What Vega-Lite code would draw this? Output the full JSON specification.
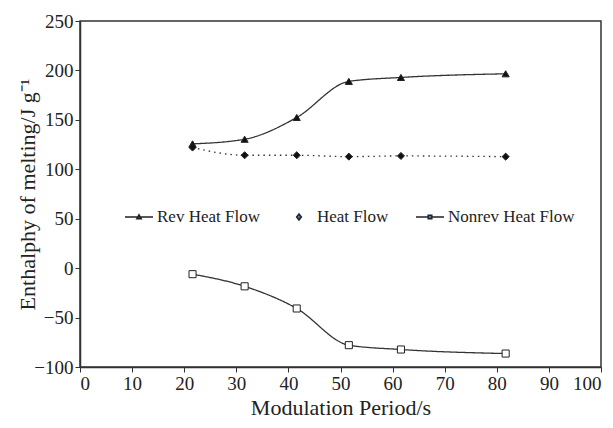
{
  "$schema": "https://vega.github.io/schema/vega-lite/v6.json",
  "width": 521,
  "height": 346,
  "autosize": {"type": "none"},
  "padding": {"left": 80, "top": 21, "right": 12, "bottom": 61},
  "background": "white",
  "config": {
    "view": {"stroke": "#333", "strokeWidth": 1.5},
    "font": "Liberation Serif",
    "axis": {
      "grid": false,
      "domainColor": "#333",
      "domainWidth": 1.5,
      "tickColor": "#333",
      "tickSize": 5,
      "labelFont": "Liberation Serif",
      "labelFontSize": 19,
      "labelColor": "#222",
      "titleFont": "Liberation Serif",
      "titleFontSize": 22,
      "titleFontWeight": "normal",
      "titleColor": "#222"
    }
  },
  "data": {
    "values": [
      {"x": 21.6, "y": 125.7, "series": "Rev Heat Flow"},
      {"x": 31.6, "y": 130.4, "series": "Rev Heat Flow"},
      {"x": 41.6, "y": 152.4, "series": "Rev Heat Flow"},
      {"x": 51.6, "y": 188.9, "series": "Rev Heat Flow"},
      {"x": 61.6, "y": 192.9, "series": "Rev Heat Flow"},
      {"x": 81.7, "y": 196.6, "series": "Rev Heat Flow"},
      {"x": 21.6, "y": 122.0, "series": "Heat Flow"},
      {"x": 31.6, "y": 114.2, "series": "Heat Flow"},
      {"x": 41.6, "y": 114.2, "series": "Heat Flow"},
      {"x": 51.6, "y": 112.8, "series": "Heat Flow"},
      {"x": 61.6, "y": 113.5, "series": "Heat Flow"},
      {"x": 81.7, "y": 112.8, "series": "Heat Flow"},
      {"x": 21.6, "y": -6.1, "series": "Nonrev Heat Flow"},
      {"x": 31.6, "y": -18.4, "series": "Nonrev Heat Flow"},
      {"x": 41.6, "y": -40.8, "series": "Nonrev Heat Flow"},
      {"x": 51.6, "y": -77.9, "series": "Nonrev Heat Flow"},
      {"x": 61.6, "y": -82.3, "series": "Nonrev Heat Flow"},
      {"x": 81.7, "y": -86.4, "series": "Nonrev Heat Flow"}
    ]
  },
  "encoding": {
    "x": {
      "field": "x",
      "type": "quantitative",
      "scale": {"domain": [0, 100], "nice": false},
      "axis": {"values": [0, 10, 20, 30, 40, 50, 60, 70, 80, 90, 100], "title": "Modulation Period/s", "titlePadding": 4, "labelPadding": 2, "labelFont": "Liberation Serif", "labelFontSize": 19, "titleFont": "Liberation Serif", "titleFontSize": 22}
    },
    "y": {
      "field": "y",
      "type": "quantitative",
      "scale": {"domain": [-100, 250], "nice": false, "zero": false},
      "axis": {"values": [-100, -50, 0, 50, 100, 150, 200, 250], "title": "Enthalphy of melting/J g⁻¹", "titlePadding": -6, "labelPadding": 2, "labelFont": "Liberation Serif", "labelFontSize": 19, "titleFont": "Liberation Serif", "titleFontSize": 22}
    }
  },
  "layer": [
    {
      "mark": {"type": "line", "interpolate": "monotone", "color": "#333", "strokeWidth": 1.3},
      "encoding": {
        "detail": {"field": "series"},
        "strokeDash": {
          "field": "series",
          "scale": {"domain": ["Rev Heat Flow", "Heat Flow", "Nonrev Heat Flow"], "range": [[1, 0], [1.5, 4], [1, 0]]},
          "legend": null
        }
      }
    },
    {
      "mark": {"type": "point", "filled": true, "stroke": "#222", "strokeWidth": 1, "size": 50, "opacity": 1},
      "encoding": {
        "shape": {
          "field": "series",
          "scale": {"domain": ["Rev Heat Flow", "Heat Flow", "Nonrev Heat Flow"], "range": ["triangle-up", "diamond", "square"]},
          "legend": null
        },
        "fill": {
          "field": "series",
          "scale": {"domain": ["Rev Heat Flow", "Heat Flow", "Nonrev Heat Flow"], "range": ["#111", "#111", "white"]},
          "legend": null
        }
      }
    },
    {
      "mark": {"type": "point", "filled": true, "stroke": "#222", "strokeWidth": 1, "opacity": 0},
      "encoding": {
        "shape": {
          "field": "series",
          "scale": {
            "domain": ["Rev Heat Flow", "Heat Flow", "Nonrev Heat Flow"],
            "range": [
              "M-1,0H1M-0.16,0.13L0,-0.16L0.16,0.13Z",
              "M0,-0.22L0.17,0L0,0.22L-0.17,0Z",
              "M-1,0H-0.13M0.13,0H1M-0.13,-0.13H0.13V0.13H-0.13Z"
            ]
          },
          "legend": {
            "orient": "none",
            "legendX": 44,
            "legendY": 181,
            "direction": "horizontal",
            "title": null,
            "symbolSize": 784,
            "labelFont": "Liberation Serif",
            "labelFontSize": 17,
            "labelColor": "#222",
            "labelOffset": 3,
            "columnPadding": 24,
            "encode": {
              "symbols": {
                "update": {
                  "fill": [{"test": "datum.value === 'Nonrev Heat Flow'", "value": "white"}, {"value": "#111"}],
                  "stroke": {"value": "#222"},
                  "strokeWidth": {"value": 1},
                  "opacity": {"value": 1},
                  "strokeOpacity": {"value": 1},
                  "fillOpacity": {"value": 1}
                }
              }
            }
          }
        }
      }
    }
  ],
  "resolve": {"scale": {"shape": "independent", "fill": "independent", "strokeDash": "independent"}}
}
